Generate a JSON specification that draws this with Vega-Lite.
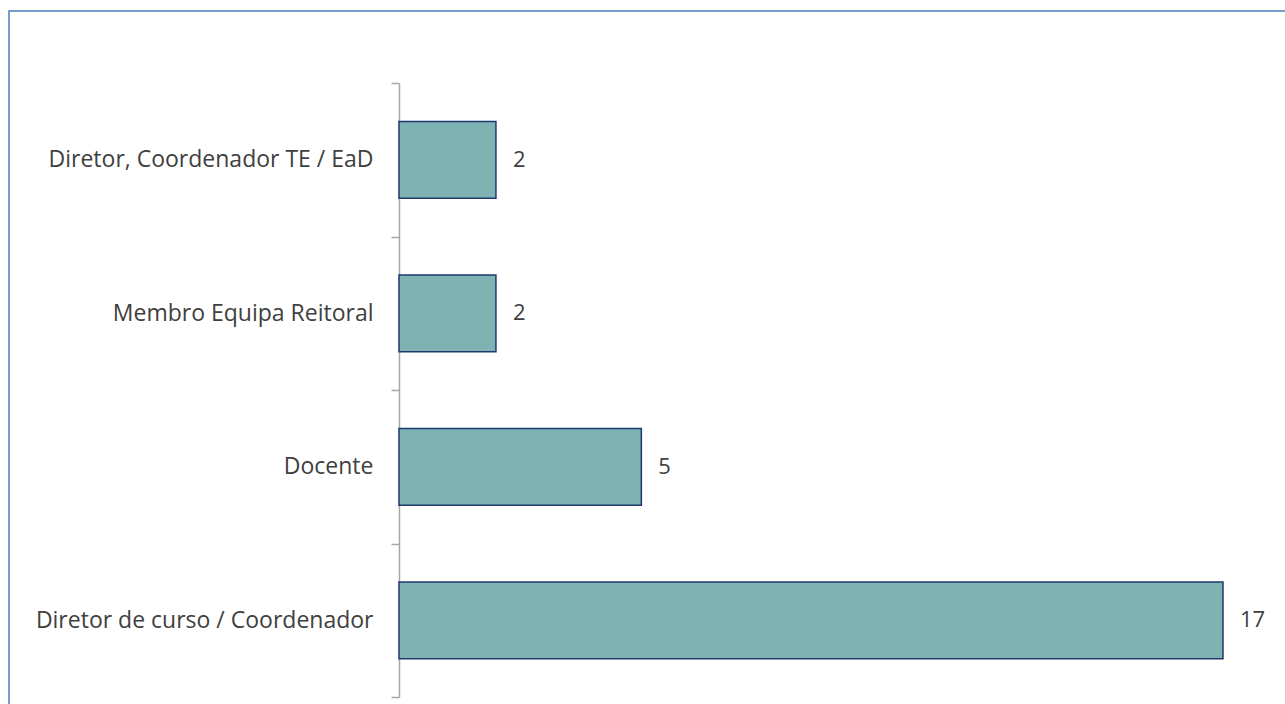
{
  "$schema": "https://vega.github.io/schema/vega-lite/v6.json",
  "autosize": "none",
  "padding": {"left": 9, "top": 11, "right": 0, "bottom": 0},
  "width": 1290,
  "height": 710,
  "background": "white",
  "config": {"view": {"stroke": "#4A7EBB", "strokeWidth": 1.5}},
  "data": {"values": [
    {"role": "Diretor, Coordenador TE / EaD", "count": 2},
    {"role": "Membro Equipa Reitoral", "count": 2},
    {"role": "Docente", "count": 5},
    {"role": "Diretor de curso / Coordenador", "count": 17}
  ]},
  "encoding": {
    "y": {
      "field": "role", "type": "nominal", "sort": null,
      "scale": {"range": [72, 686], "paddingInner": 0, "paddingOuter": 0},
      "axis": {
        "orient": "left", "offset": -390, "title": null,
        "domainColor": "#A6A6A6", "domainWidth": 1.5,
        "tickColor": "#A6A6A6", "tickWidth": 1.5, "tickSize": 8, "tickBand": "extent",
        "labelPadding": 18, "labelFont": "Open Sans", "labelFontSize": 23,
        "labelColor": "#404040", "labelLimit": 0
      }
    },
    "x": {
      "field": "count", "type": "quantitative",
      "scale": {"domain": [-8.046, 18.568], "nice": false, "zero": false},
      "axis": null
    }
  },
  "layer": [
    {
      "mark": {"type": "bar", "fill": "#7FB2B2", "stroke": "#1F3A6E", "strokeWidth": 1.5, "height": {"band": 0.5}},
      "encoding": {"x2": {"datum": 0}}
    },
    {
      "mark": {"type": "text", "align": "left", "baseline": "middle", "dx": 17, "font": "Open Sans", "fontSize": 22, "fill": "#404040"},
      "encoding": {"text": {"field": "count", "type": "quantitative"}}
    }
  ]
}
